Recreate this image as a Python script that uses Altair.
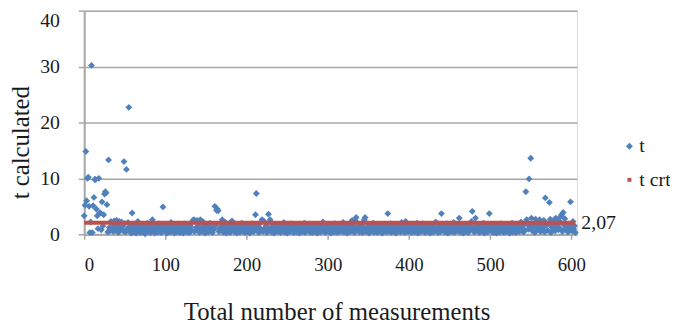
import altair as alt
import pandas as pd

# t calculated for each measurement (index = measurement number)
t_values = [
    3.3, 5.2, 14.8, 6.0, 10.0, 10.2, 5.0, 0.3, 2.2, 30.2, 0.3, 5.1, 6.6, 9.8, 9.8, 4.5, 3.3, 1.0, 10.0, 3.8,
    3.8, 0.8, 5.8, 1.5, 3.5, 7.2, 7.6, 7.4, 5.3, 0.4, 13.3, 1.2, 0.6, 2.3, 0.9, 1.8, 0.5, 2.4, 1.1, 0.7,
    2.5, 1.6, 0.3, 2.3, 1.2, 0.8, 2.2, 1.4, 0.6, 13.0, 1.9, 0.4, 11.6, 1.0, 2.1, 22.7, 0.7, 1.5, 0.2, 3.8,
    1.3, 0.5, 1.7, 0.9, 0.2, 1.1, 2.3, 0.6, 1.4, 0.3, 1.0, 1.8, 0.4, 0.8, 1.5, 0.1, 1.2, 0.7, 2.0, 0.5,
    1.6, 0.9, 0.3, 1.3, 2.6, 0.6, 1.1, 0.2, 1.7, 0.8, 1.4, 0.4, 1.9, 0.7, 1.0, 0.3, 1.5, 4.9, 0.9, 1.2,
    0.5, 1.8, 0.2, 1.1, 0.7, 1.4, 0.4, 2.1, 0.9, 1.3, 0.6, 0.2, 1.6, 1.0, 0.4, 1.7, 0.8, 1.2, 0.3, 1.5,
    0.7, 1.1, 0.2, 1.9, 0.6, 1.3, 0.9, 0.4, 1.6, 1.0, 0.3, 1.4, 0.8, 2.2, 2.5, 2.6, 0.5, 2.4, 1.2, 2.5,
    0.7, 1.8, 0.3, 2.6, 1.1, 0.6, 2.3, 0.9, 1.5, 0.2, 1.3, 0.8, 1.7, 0.4, 1.0, 2.0, 0.6, 1.4, 0.3, 1.2,
    0.9, 5.0, 1.6, 4.3, 4.5, 4.2, 0.5, 1.1, 0.8, 1.9, 2.6, 0.4, 1.3, 0.7, 2.1, 0.2, 1.5, 1.0, 0.6, 1.7,
    0.3, 1.2, 2.4, 0.8, 1.4, 0.5, 1.0, 1.8, 0.2, 1.3, 0.7, 1.6, 0.4, 1.1, 2.0, 0.6, 1.5, 0.9, 0.3, 1.2,
    0.8, 1.7, 0.4, 1.0, 0.2, 1.4, 0.6, 1.9, 1.1, 0.5, 1.3, 3.5, 7.3, 0.9, 1.6, 0.3, 1.2, 0.7, 2.2, 2.6,
    0.5, 2.4, 1.0, 0.8, 1.5, 0.3, 1.3, 3.6, 0.7, 2.6, 1.1, 0.4, 1.8, 0.9, 0.2, 1.4, 0.6, 1.0, 1.7, 0.5,
    1.2, 0.8, 0.3, 1.5, 1.0, 0.6, 2.1, 0.4, 1.3, 0.9, 0.2, 1.6, 0.7, 1.1, 0.5, 1.9, 0.8, 1.4, 0.3, 1.0,
    0.6, 1.3, 0.4, 1.7, 0.9, 0.2, 1.2, 0.7, 1.5, 0.5, 1.0, 2.0, 0.3, 1.4, 0.8, 1.1, 0.6, 1.8, 0.4, 1.2,
    0.9, 0.3, 1.6, 0.7, 1.0, 0.5, 1.3, 0.2, 1.8, 0.8, 1.1, 0.4, 1.5, 0.6, 2.2, 0.9, 1.2, 0.3, 1.4, 0.7,
    1.0, 0.5, 1.7, 0.8, 0.2, 1.3, 0.6, 1.1, 0.4, 1.9, 0.9, 1.4, 0.3, 1.0, 0.7, 1.6, 0.5, 1.2, 0.8, 2.1,
    0.4, 1.3, 0.6, 1.0, 0.2, 1.5, 0.9, 1.8, 0.5, 1.1, 2.5, 0.7, 1.4, 0.3, 2.4, 3.0, 1.2, 0.8, 1.6, 0.4,
    1.0, 0.6, 1.9, 0.3, 1.3, 2.6, 3.0, 0.5, 1.1, 0.8, 1.7, 0.2, 1.4, 0.9, 1.2, 0.6, 2.0, 0.4, 1.5, 0.7,
    1.1, 0.3, 1.6, 0.8, 1.0, 0.5, 1.8, 0.2, 1.3, 0.9, 1.2, 0.6, 1.5, 0.4, 3.7, 1.0, 0.7, 1.9, 0.3, 1.4,
    0.8, 1.1, 0.5, 1.7, 0.2, 1.3, 0.9, 1.6, 0.6, 1.0, 0.4, 2.1, 1.2, 0.7, 1.5, 0.3, 2.3, 0.8, 1.4, 0.5,
    1.0, 0.6, 1.8, 0.3, 1.2, 0.9, 1.5, 0.4, 1.1, 0.7, 2.0, 0.2, 1.3, 0.8, 1.6, 0.5, 1.0, 1.9, 0.6, 1.4,
    0.3, 1.2, 0.8, 1.7, 0.5, 1.0, 0.2, 1.4, 0.9, 1.6, 0.4, 1.1, 0.7, 2.2, 0.6, 1.3, 0.3, 1.8, 1.0, 0.5,
    3.7, 1.2, 0.8, 1.5, 0.4, 1.0, 0.6, 1.9, 0.2, 1.3, 0.9, 1.6, 0.5, 1.1, 0.7, 2.1, 0.3, 1.4, 0.8, 1.0,
    0.6, 1.7, 2.9, 0.4, 1.2, 0.9, 1.5, 0.2, 1.0, 0.7, 1.8, 0.5, 1.3, 0.3, 1.6, 0.8, 1.1, 2.3, 4.1, 0.6,
    1.4, 0.4, 2.9, 0.9, 1.2, 0.6, 1.7, 0.3, 1.0, 0.8, 1.5, 0.5, 2.0, 0.2, 1.3, 0.7, 1.1, 0.4, 1.6, 3.7,
    0.9, 1.2, 0.5, 1.8, 0.3, 1.0, 0.7, 1.4, 0.2, 1.6, 0.8, 1.1, 0.4, 1.9, 0.6, 1.3, 0.9, 0.3, 1.5, 1.0,
    0.5, 1.7, 0.8, 1.2, 0.2, 1.4, 0.6, 2.0, 0.4, 1.1, 0.9, 1.6, 0.3, 1.3, 0.7, 1.8, 0.5, 1.0, 2.2, 0.8,
    1.4, 0.4, 1.9, 0.7, 7.6, 2.6, 1.8, 0.9, 9.9, 1.3, 13.6, 2.9, 0.6, 1.5, 1.7, 0.3, 2.7, 1.1, 1.4, 0.8,
    1.5, 2.6, 0.5, 1.8, 1.2, 0.9, 2.5, 0.4, 6.5, 1.6, 1.9, 0.7, 1.9, 5.7, 2.7, 0.3, 1.3, 1.8, 1.0, 2.6,
    0.6, 2.9, 1.4, 1.7, 0.8, 2.4, 1.1, 3.2, 3.5, 0.5, 3.9, 1.7, 2.8, 0.9, 1.3, 1.6, 0.4, 1.8, 1.0, 5.8,
    1.2, 0.6, 2.3, 0.9, 1.5, 0.3,
]

series_names = ["t", "t crt"]
series_colors = ["#4F81BD", "#C0504D"]
t_crit = [2.07]
t_crit_label = ["2,07"]
crit_start = [0]
crit_end = [605]
x_ticks = [0, 100, 200, 300, 400, 500, 600]
y_ticks = [0, 10, 20, 30, 40]

FONT = "Times New Roman, Liberation Serif, DejaVu Serif, serif"
GRID = "#A6A6A6"

pts = pd.DataFrame({
    "n": list(range(len(t_values))),
    "t": t_values,
    "series": [series_names[0]] * len(t_values),
})
crit = pd.DataFrame({"x0": crit_start, "x1": crit_end, "y": t_crit, "label": t_crit_label})

x_scale = alt.Scale(domain=[0, 607], nice=False, zero=False)
y_scale = alt.Scale(domain=[0, 40], nice=False)

points = alt.Chart(pts).mark_point(filled=True, opacity=1, strokeWidth=0).encode(
    x=alt.X("n:Q", scale=x_scale, axis=alt.Axis(
        values=x_ticks, grid=False, title="Total number of measurements",
        domainColor=GRID, domainWidth=2, tickColor=GRID, tickWidth=1.5, tickSize=5,
        labelFont=FONT, labelFontSize=19, labelColor="#1a1a1a", labelPadding=17,
        titleFont=FONT, titleFontSize=25, titleFontWeight="normal", titleColor="#1a1a1a",
        titleX=255, titleY=86, titleBaseline="alphabetic", titleAlign="center",
    )),
    y=alt.Y("t:Q", scale=y_scale, axis=alt.Axis(
        values=y_ticks, grid=True, gridColor=GRID, gridWidth=1.5, title="t calculated",
        domainColor=GRID, domainWidth=2, tickColor=GRID, tickWidth=1.5, tickSize=6,
        labelFont=FONT, labelFontSize=20, labelColor="#1a1a1a", labelAlign="right",
        labelPadding=19,
        labelBaseline={"condition": {"test": "datum.value == 40", "value": "top"}, "value": "middle"},
        titleFont=FONT, titleFontSize=25, titleFontWeight="normal", titleColor="#1a1a1a",
        titleAngle=-90, titleX=-64, titleY=133, titleAlign="center", titleBaseline="middle",
    )),
    color=alt.Color("series:N", scale=alt.Scale(domain=series_names, range=series_colors),
                    legend=alt.Legend(title=None, orient="none", legendX=541, legendY=127,
                                      labelFont=FONT, labelFontSize=20, labelColor="#1a1a1a",
                                      labelOffset=0, rowPadding=14, padding=0,
                                      symbolStrokeWidth=0)),
    shape=alt.Shape("series:N", scale=alt.Scale(domain=series_names, range=["diamond", "square"])),
    size=alt.Size("series:N", scale=alt.Scale(domain=series_names, range=[48, 16])),
)

rule = alt.Chart(crit).mark_rule(color=series_colors[1], strokeWidth=4).encode(
    x=alt.X("x0:Q", scale=x_scale), x2="x1:Q", y=alt.Y("y:Q", scale=y_scale)
)

label = alt.Chart(crit).mark_text(align="left", baseline="middle", dx=6, font=FONT,
                                  fontSize=20, color="#1a1a1a").encode(
    x=alt.X("x1:Q", scale=x_scale), y=alt.Y("y:Q", scale=y_scale), text="label:N"
)

chart = alt.layer(points, rule, label).properties(
    width=498, height=226,
    autosize=alt.AutoSizeParams(type="none"),
    padding={"left": 77, "top": 1, "right": 94, "bottom": 90},
).configure_view(stroke=None).configure(background="white")

chart.save("out.html", embed_options={"renderer": "svg", "actions": False})
